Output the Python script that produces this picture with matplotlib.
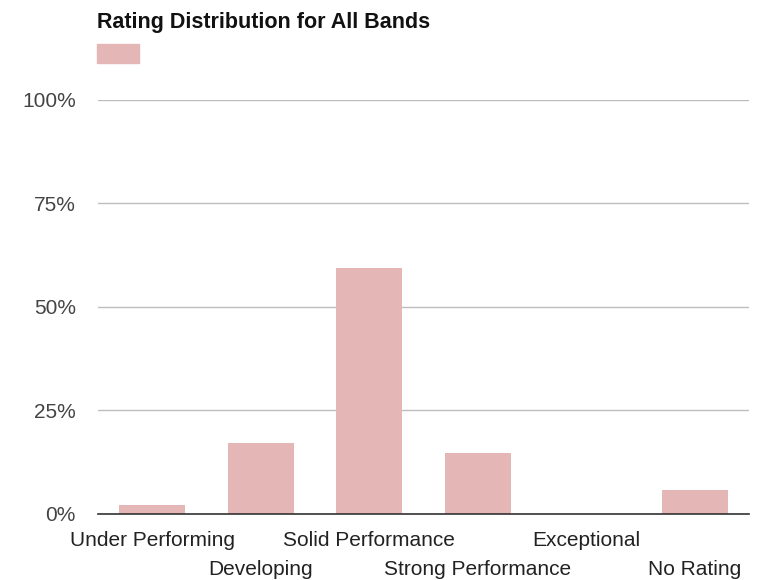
import numpy as np
import matplotlib.pyplot as plt
from matplotlib.ticker import FuncFormatter

plt.rcParams['font.family'] = ['Liberation Sans', 'DejaVu Sans']

categories = ['Under Performing', 'Developing', 'Solid Performance',
              'Strong Performance', 'Exceptional', 'No Rating']
shares = [2.1, 17.1, 59.3, 14.7, 0.0, 5.8]
yticks = [0, 25, 50, 75, 100]

bar_color = '#e4b6b6'

fig = plt.figure(figsize=(7.59, 5.8), dpi=100)
ax = fig.add_axes([0.129, 0.1138, 0.858, 0.7138])

x = np.arange(len(categories))
ax.bar(x, shares, width=0.61, color=bar_color, zorder=3)

ax.set_xlim(-0.5, len(categories) - 0.5)
ax.set_ylim(0, 100)
ax.set_yticks(yticks)
ax.yaxis.set_major_formatter(FuncFormatter(lambda v, p: f'{v:.0f}%'))
ax.grid(axis='y', color='#bdbdbd', linewidth=1.0, zorder=0)
ax.set_axisbelow(True)

for side in ['top', 'right', 'left']:
    ax.spines[side].set_visible(False)
ax.spines['bottom'].set_color('#333333')
ax.spines['bottom'].set_linewidth(1.2)
ax.spines['bottom'].set_zorder(4)

ax.tick_params(axis='y', length=0, pad=16, labelsize=15, labelcolor='#444444')
ax.tick_params(axis='x', length=0, pad=0)
ax.set_xticks(x)
ax.set_xticklabels([])

# staggered category labels
for i, name in enumerate(categories):
    yoff = -0.065 if i % 2 == 0 else -0.135
    ax.text(i, yoff, name, transform=ax.get_xaxis_transform(), ha='center',
            va='center', fontsize=15, color='#222222')

fig.text(0.128, 0.962, 'Rating Distribution for All Bands', fontsize=15.5,
         fontweight='bold', color='#111111', ha='left', va='center')
fig.patches.append(plt.Rectangle((0.128, 0.891), 0.055, 0.034,
                                 transform=fig.transFigure, color=bar_color))

fig.savefig('out.png', dpi=100)
